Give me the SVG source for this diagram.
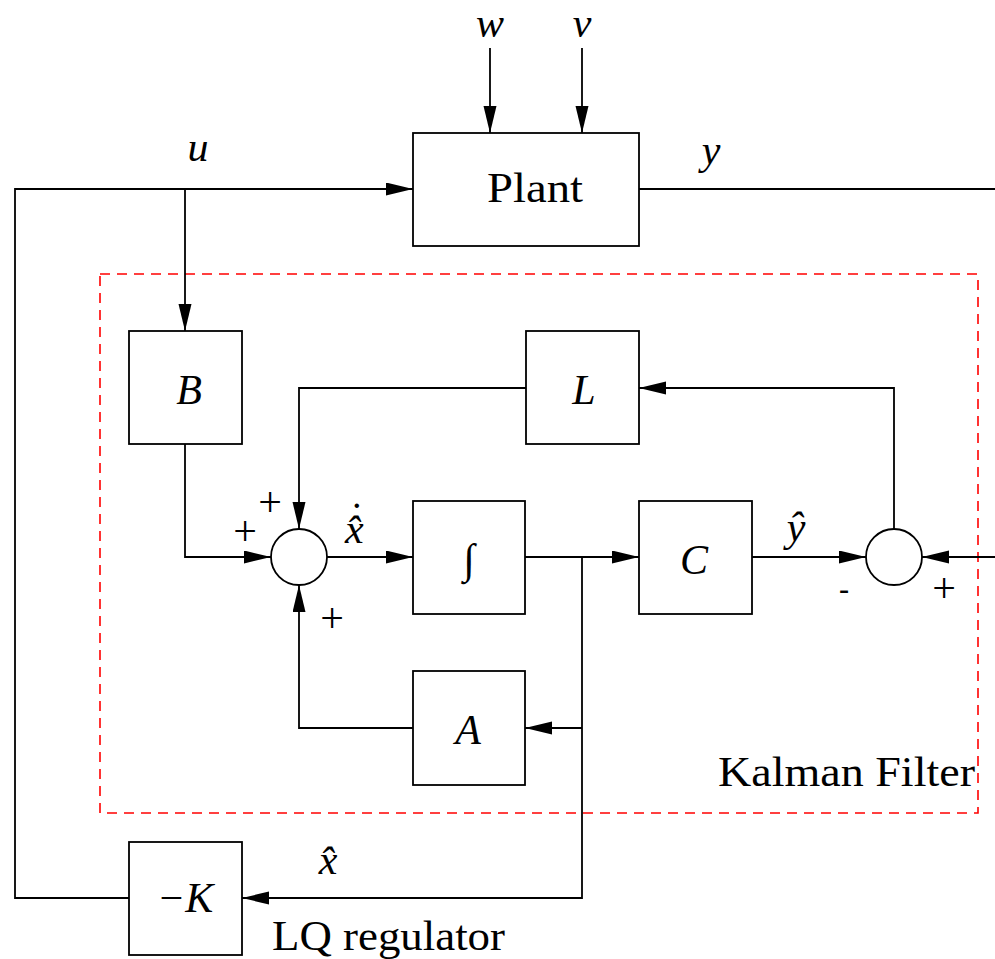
<svg xmlns="http://www.w3.org/2000/svg" width="995" height="959" viewBox="0 0 995 959">
<style>
.box{fill:#fff;stroke:#000;stroke-width:1.8}
.ln{fill:none;stroke:#000;stroke-width:1.8}
</style>
<defs>
<marker id="ar" markerUnits="userSpaceOnUse" markerWidth="28" markerHeight="14" refX="27" refY="6.5" orient="auto">
<path d="M0,0 L27,6.5 L0,13 z" fill="#000"/>
</marker>
</defs>
<rect width="995" height="959" fill="#fff"/>
<g id="kalman-frame">
<rect x="100" y="274" width="878" height="539" fill="none" stroke="#f00" stroke-width="1.6" stroke-dasharray="10,7"/>
<text x="975" y="786" text-anchor="end" font-family="Liberation Serif, serif" font-size="42" textLength="257" lengthAdjust="spacingAndGlyphs">Kalman Filter</text>
</g>
<g id="connectors">
<line class="ln" x1="490" y1="48" x2="490" y2="133" marker-end="url(#ar)"/>
<line class="ln" x1="582" y1="48" x2="582" y2="133" marker-end="url(#ar)"/>
<polyline class="ln" points="129,898 15,898 15,189 413,189" marker-end="url(#ar)"/>
<line class="ln" x1="185" y1="189" x2="185" y2="331" marker-end="url(#ar)"/>
<line class="ln" x1="639" y1="189" x2="995" y2="189"/>
<polyline class="ln" points="185,444 185,557 271,557" marker-end="url(#ar)"/>
<polyline class="ln" points="526,388 299,388 299,529" marker-end="url(#ar)"/>
<polyline class="ln" points="413,728 299,728 299,585" marker-end="url(#ar)"/>
<line class="ln" x1="327" y1="557" x2="413" y2="557" marker-end="url(#ar)"/>
<line class="ln" x1="525" y1="557" x2="639" y2="557" marker-end="url(#ar)"/>
<line class="ln" x1="752" y1="557" x2="866" y2="557" marker-end="url(#ar)"/>
<polyline class="ln" points="894,529 894,388 639,388" marker-end="url(#ar)"/>
<line class="ln" x1="995" y1="557" x2="922" y2="557" marker-end="url(#ar)"/>
<polyline class="ln" points="582,557 582,898 242,898" marker-end="url(#ar)"/>
<line class="ln" x1="582" y1="728" x2="525" y2="728" marker-end="url(#ar)"/>
</g>
<g id="labels" font-family="Liberation Serif, serif" font-size="42">
<text x="490" y="37" text-anchor="middle" font-style="italic">w</text>
<text x="582" y="37" text-anchor="middle" font-style="italic">v</text>
<text x="198" y="161" text-anchor="middle" font-style="italic">u</text>
<text x="711" y="164" text-anchor="middle" font-style="italic">y</text>
<text x="345" y="543" font-style="italic">x&#770;<tspan dx="-14" dy="-11" font-style="normal">&#729;</tspan></text>
<text x="796" y="541" text-anchor="middle" font-style="italic">y&#770;</text>
<text x="328" y="874" text-anchor="middle" font-style="italic">x&#770;</text>
<text x="270" y="516" text-anchor="middle">+</text>
<text x="245" y="545" text-anchor="middle">+</text>
<text x="332" y="632" text-anchor="middle">+</text>
<text x="844" y="600" text-anchor="middle" font-family="Liberation Sans, sans-serif" font-size="32">-</text>
<text x="944" y="602" text-anchor="middle">+</text>
</g>
<g id="plant">
<rect class="box" x="413" y="133" width="226" height="113"/>
<text x="535" y="202" text-anchor="middle" font-family="Liberation Serif, serif" font-size="42" textLength="96" lengthAdjust="spacingAndGlyphs">Plant</text>
</g>
<g id="B">
<rect class="box" x="129" y="331" width="113" height="113"/>
<text x="189" y="404" text-anchor="middle" font-family="Liberation Serif, serif" font-size="42" font-style="italic">B</text>
</g>
<g id="L">
<rect class="box" x="526" y="331" width="113" height="113"/>
<text x="584" y="404" text-anchor="middle" font-family="Liberation Serif, serif" font-size="42" font-style="italic">L</text>
</g>
<g id="sum1">
<circle class="box" cx="299" cy="557" r="28"/>
</g>
<g id="integrator">
<rect class="box" x="413" y="501" width="112" height="113"/>
<text x="469" y="573" text-anchor="middle" font-family="Liberation Serif, serif" font-size="42">&#8747;</text>
</g>
<g id="C">
<rect class="box" x="639" y="501" width="113" height="113"/>
<text x="694" y="574" text-anchor="middle" font-family="Liberation Serif, serif" font-size="42" font-style="italic">C</text>
</g>
<g id="sum2">
<circle class="box" cx="894" cy="557" r="28"/>
</g>
<g id="A">
<rect class="box" x="413" y="671" width="112" height="114"/>
<text x="468" y="744" text-anchor="middle" font-family="Liberation Serif, serif" font-size="42" font-style="italic">A</text>
</g>
<g id="K">
<rect class="box" x="129" y="842" width="113" height="113"/>
<text x="185" y="912" text-anchor="middle" font-family="Liberation Serif, serif" font-size="42" font-style="italic">&#8722;K</text>
<text x="272" y="950" font-family="Liberation Serif, serif" font-size="42" textLength="233" lengthAdjust="spacingAndGlyphs">LQ regulator</text>
</g>
</svg>
